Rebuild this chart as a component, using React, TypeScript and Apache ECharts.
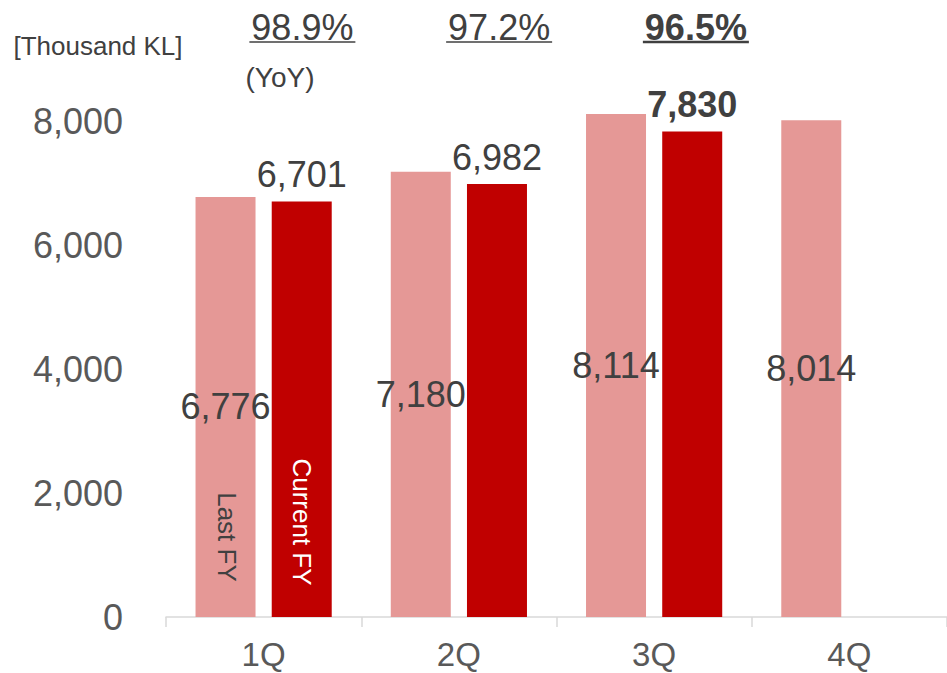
import React, { useEffect, useRef } from "react";
import * as echarts from "echarts";

const categories = ["1Q", "2Q", "3Q", "4Q"];
const lastFY = [6776, 7180, 8114, 8014];
const currentFY: (number | null)[] = [6701, 6982, 7830, null];
const yoy = ["98.9%", "97.2%", "96.5%"];
const yoyBold = [false, false, true];
const currentBold = [false, false, true, false];

const FONT = "'Liberation Sans', Arial, sans-serif";
const LABEL = "#404040";
const AXIS = "#595959";

export default function App() {
  const ref = useRef<HTMLDivElement>(null);
  useEffect(() => {
    document.body.style.margin = "0";
    const chart = echarts.init(ref.current!, null, { renderer: "svg" });

    const gridLeft = 166;
    const catW = 787 / categories.length;
    const graphics: any[] = [];
    yoy.forEach((t, i) => {
      const cx = gridLeft + catW * (i + 0.5) + 38;
      graphics.push({
        type: "text",
        x: cx,
        y: 27,
        z: 100,
        style: {
          text: t,
          fill: LABEL,
          font: `${yoyBold[i] ? "bold " : ""}36px ${FONT}`,
          align: "center",
          verticalAlign: "middle",
        },
      });
      const w = 106;
      graphics.push({
        type: "line",
        z: 100,
        shape: { x1: cx - w / 2, y1: 42, x2: cx + w / 2, y2: 42 },
        style: { stroke: LABEL, lineWidth: yoyBold[i] ? 2.5 : 1.5 },
      });
    });
    graphics.push(
      {
        type: "text",
        x: 98,
        y: 46,
        z: 100,
        style: { text: "[Thousand KL]", fill: LABEL, font: `26px ${FONT}`, align: "center", verticalAlign: "middle" },
      },
      {
        type: "text",
        x: 280,
        y: 77,
        z: 100,
        style: { text: "(YoY)", fill: LABEL, font: `28px ${FONT}`, align: "center", verticalAlign: "middle" },
      },
      {
        type: "text",
        x: 227,
        y: 537,
        z: 100,
        rotation: -Math.PI / 2,
        style: { text: "Last FY", fill: LABEL, font: `26px ${FONT}`, align: "center", verticalAlign: "middle" },
      },
      {
        type: "text",
        x: 302,
        y: 522,
        z: 100,
        rotation: -Math.PI / 2,
        style: { text: "Current FY", fill: "#ffffff", font: `26px ${FONT}`, align: "center", verticalAlign: "middle" },
      }
    );

    chart.setOption({
      animation: false,
      textStyle: { fontFamily: FONT },
      grid: { left: gridLeft, top: 59, width: 787, height: 558, containLabel: false },
      xAxis: {
        type: "category",
        data: categories,
        axisLine: { show: true, lineStyle: { color: "#d9d9d9", width: 1.5 } },
        axisTick: { show: true, length: 10, lineStyle: { color: "#d9d9d9", width: 1.5 } },
        axisLabel: { color: AXIS, fontSize: 33, lineHeight: 33, margin: 21, fontFamily: FONT },
      },
      yAxis: {
        type: "value",
        min: 0,
        max: 9000,
        interval: 2000,
        splitLine: { show: false },
        axisLine: { show: false },
        axisTick: { show: false },
        axisLabel: {
          color: AXIS,
          fontSize: 36,
          margin: 43,
          fontFamily: FONT,
          formatter: (v: number) => (v > 8000 ? "" : v.toLocaleString("en-US")),
        },
      },
      series: [
        {
          name: "Last FY",
          type: "bar",
          data: lastFY,
          barWidth: 60,
          barGap: "27%",
          itemStyle: { color: "#E59896" },
          label: {
            show: true,
            position: "inside",
            color: LABEL,
            fontSize: 36,
            fontFamily: FONT,
            formatter: (p: any) => Number(p.value).toLocaleString("en-US"),
          },
        },
        {
          name: "Current FY",
          type: "bar",
          data: currentFY.map((v, i) => ({
            value: v,
            label: { fontWeight: currentBold[i] ? "bold" : "normal" },
          })),
          barWidth: 60,
          itemStyle: { color: "#C00000" },
          label: {
            show: true,
            position: "top",
            distance: 9,
            color: LABEL,
            fontSize: 36,
            fontFamily: FONT,
            formatter: (p: any) => (p.value == null ? "" : Number(p.value).toLocaleString("en-US")),
          },
        },
      ],
      graphic: graphics,
    });
    return () => chart.dispose();
  }, []);
  return <div ref={ref} style={{ width: 947, height: 673 }} />;
}
